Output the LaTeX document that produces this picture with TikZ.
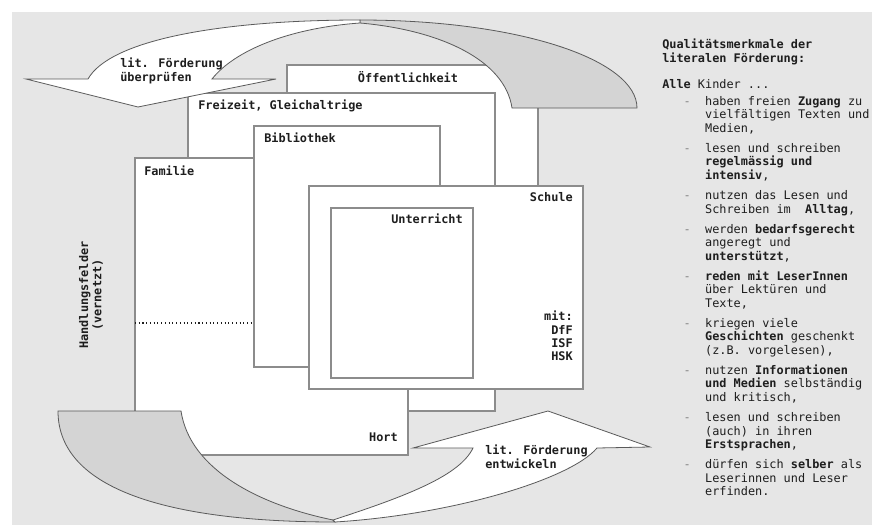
\documentclass[tikz,border=0pt]{standalone}
\usepackage{fontspec}
\setmainfont{DejaVu Sans Mono}
\definecolor{hintergrund}{RGB}{230,230,230}
\definecolor{sichelgrau}{RGB}{212,212,212}
\definecolor{rahmengrau}{RGB}{140,140,140}
\definecolor{pfeilrand}{RGB}{90,90,90}
\definecolor{schrift}{RGB}{30,30,30}
\newcommand{\pkt}{\hspace*{16.07pt}{\color{gray}-}\hspace*{10.72pt}}
\newcommand{\ein}{\hspace*{32.15pt}}

\tikzset{
  feld/.style={draw=rahmengrau, fill=white, line width=0.8pt},
  sichel/.style={draw=pfeilrand, fill=sichelgrau, line width=0.6pt},
  pfeil/.style={draw=pfeilrand, fill=white, line width=0.6pt},
  feldtext/.style={inner sep=0pt, text=schrift,
    font=\fontsize{8.9pt}{10pt}\selectfont\bfseries},
  listtext/.style={inner sep=0pt, align=left, text=schrift,
    font=\fontsize{8.9pt}{10pt}\selectfont}
}

\begin{document}
\begin{tikzpicture}[x=0.75pt, y=-0.75pt]
\useasboundingbox (0,0) rectangle (872,525);
\fill[hintergrund] (12,12) rectangle (872,525);

% Handlungsfelder
\draw[feld] (287,65) rectangle (538,380);
\draw[feld] (188,93) rectangle (495,411);
\draw[feld] (135,158) rectangle (408,455);
\draw[feld] (254,126) rectangle (440,367);
\draw[feld] (309,186) rectangle (583,389);
\draw[feld] (331,208) rectangle (473,378);
\draw[dotted, line width=0.8pt, schrift] (135,323) -- (254,323);

% oberer Pfeil
\draw[sichel] (360,20) .. controls (520,20) and (637,60) .. (637,108)
  -- (512,108) .. controls (505,60) and (440,30) .. (360,23) -- cycle;
\draw[pfeil] (360,20) .. controls (220,20) and (110,40) .. (88,79)
  -- (26,79) -- (138,107) -- (276,79) -- (212,79)
  .. controls (235,50) and (290,28) .. (360,23) -- cycle;

% unterer Pfeil
\draw[sichel] (58,411) -- (181,411) .. controls (190,470) and (260,505) .. (333,520)
  -- (335,522) .. controls (170,522) and (58,490) .. (58,411) -- cycle;
\draw[pfeil] (333,520) .. controls (410,495) and (460,475) .. (473,448)
  -- (413,448) -- (548,411) -- (650,447) -- (597,448)
  .. controls (570,480) and (450,515) .. (335,522) -- cycle;

\node[feldtext, anchor=base] (oeffentlichkeit) at (408,82) {Öffentlichkeit};
\node[feldtext, anchor=base west] (freizeit) at (198,109) {Freizeit, Gleichaltrige};
\node[feldtext, anchor=base west] (bibliothek) at (264,142) {Bibliothek};
\node[feldtext, anchor=base west] (familie) at (144,175) {Familie};
\node[feldtext, anchor=base east] (schule) at (573,201) {Schule};
\node[feldtext, anchor=base east] (unterricht) at (463,223) {Unterricht};
\node[feldtext, anchor=base east] (hort) at (398,441) {Hort};
\node[feldtext, align=right, anchor=north east] (angebote) at (573,311) {mit:\\DfF\\ISF\\HSK};
\node[feldtext, align=center, rotate=90] (handlungsfelder) at (91,295) {Handlungsfelder\\(vernetzt)};
\node[feldtext, align=left, anchor=north west] (ueberpruefen) at (120,58) {lit. Förderung\\überprüfen};
\node[feldtext, align=left, anchor=north west] (entwickeln) at (485,445) {lit. Förderung\\entwickeln};

\node[listtext, anchor=north west] (merkmale) at (662,39) {%
\textbf{Qualitätsmerkmale der}\\
\textbf{literalen Förderung:}\\[10pt]
\textbf{Alle} Kinder ...\\[2.5pt]
\pkt haben freien \textbf{Zugang} zu\\
\ein vielfältigen Texten und\\
\ein Medien,\\[5.3pt]
\pkt lesen und schreiben\\
\ein \textbf{regelmässig und}\\
\ein \textbf{intensiv},\\[5.3pt]
\pkt nutzen das Lesen und\\
\ein Schreiben im\hspace*{10.72pt}\textbf{Alltag},\\[5.3pt]
\pkt werden \textbf{bedarfsgerecht}\\
\ein angeregt und\\
\ein \textbf{unterstützt},\\[5.3pt]
\pkt \textbf{reden mit LeserInnen}\\
\ein über Lektüren und\\
\ein Texte,\\[5.3pt]
\pkt kriegen viele\\
\ein \textbf{Geschichten} geschenkt\\
\ein (z.B. vorgelesen),\\[5.3pt]
\pkt nutzen \textbf{Informationen}\\
\ein \textbf{und Medien} selbständig\\
\ein und kritisch,\\[5.3pt]
\pkt lesen und schreiben\\
\ein (auch) in ihren\\
\ein \textbf{Erstsprachen},\\[5.3pt]
\pkt dürfen sich \textbf{selber} als\\
\ein Leserinnen und Leser\\
\ein erfinden.};
\end{tikzpicture}
\end{document}
